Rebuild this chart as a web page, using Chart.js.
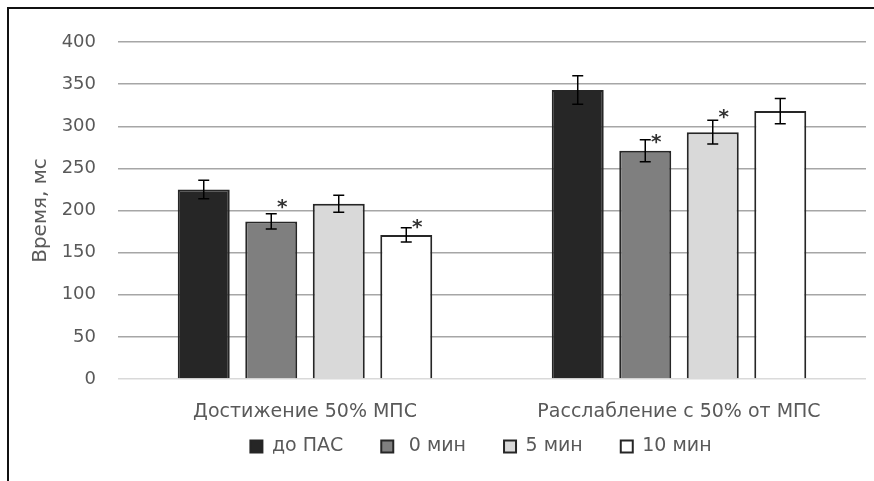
<!DOCTYPE html>
<html>
<head>
<meta charset="utf-8">
<script src="https://cdn.jsdelivr.net/npm/chart.js@4.4.0/dist/chart.umd.min.js"></script>
<style>
  html, body { margin: 0; padding: 0; background: #fff; }
  #wrap { position: relative; width: 874px; height: 481px; }
  #frame { position: absolute; left: 7px; top: 7px; width: 900px; height: 500px;
           border-left: 2px solid #111; border-top: 2px solid #111; box-sizing: border-box; }
  canvas { position: absolute; left: 0; top: 0; }
</style>
</head>
<body>
<div id="wrap">
  <div id="frame"></div>
  <canvas id="chart" width="874" height="481"></canvas>
</div>
<script>
const categories = ['Достижение 50% МПС', 'Расслабление с 50% от МПС'];
const seriesNames = ['до ПАС', ' 0 мин', '5 мин', '10 мин'];

const doPas = [225, 343];
const min0 = [187, 271];
const min5 = [208, 293];
const min10 = [171, 318];

const doPasErr = [11, 17];
const min0Err = [9, 13];
const min5Err = [10, 14];
const min10Err = [8.5, 15];

// level of the "*" marks (null = no mark)
const doPasStar = [null, null];
const min0Star = [210, 287];
const min5Star = [null, 317];
const min10Star = [186, null];

const yTicks = [0, 50, 100, 150, 200, 250, 300, 350, 400];

const fills = ['#262626', '#7f7f7f', '#d9d9d9', '#ffffff'];
const values = [doPas, min0, min5, min10];
const errors = [doPasErr, min0Err, min5Err, min10Err];
const stars = [doPasStar, min0Star, min5Star, min10Star];

const FONT = '"DejaVu Sans"';
const legendShiftX = 44;
const legendShiftY = -25;

const errorBars = {
  id: 'errorBars',
  afterDatasetsDraw(chart) {
    const ctx = chart.ctx;
    const y = chart.scales.y;
    ctx.save();
    chart.data.datasets.forEach((ds, i) => {
      const meta = chart.getDatasetMeta(i);
      meta.data.forEach((bar, j) => {
        const v = ds.data[j];
        const e = errors[i][j];
        const top = y.getPixelForValue(v + e);
        const bot = y.getPixelForValue(v - e);
        ctx.strokeStyle = '#000';
        ctx.lineWidth = 1.5;
        ctx.beginPath();
        ctx.moveTo(bar.x, top); ctx.lineTo(bar.x, bot);
        ctx.moveTo(bar.x - 5.5, top); ctx.lineTo(bar.x + 5.5, top);
        ctx.moveTo(bar.x - 5.5, bot); ctx.lineTo(bar.x + 5.5, bot);
        ctx.stroke();
        const s = stars[i][j];
        if (s !== null) {
          ctx.fillStyle = '#333';
          ctx.font = 'bold 20px ' + FONT;
          ctx.textAlign = 'center';
          ctx.textBaseline = 'middle';
          ctx.fillText('*', bar.x + 11, y.getPixelForValue(s) + 6);
        }
      });
    });
    ctx.restore();
  }
};

// move the legend under the plot like in the original
const legendPlace = {
  id: 'legendPlace',
  afterLayout(chart) {
    const lg = chart.legend;
    lg.left += legendShiftX; lg.right += legendShiftX;
    lg.top += legendShiftY; lg.bottom += legendShiftY;
  }
};

new Chart(document.getElementById('chart'), {
  type: 'bar',
  data: {
    labels: categories,
    datasets: seriesNames.map((name, i) => ({
      label: name,
      data: values[i],
      backgroundColor: fills[i],
      borderColor: '#262626',
      borderWidth: 2,
      categoryPercentage: 0.722,
      barPercentage: 0.77
    }))
  },
  options: {
    responsive: false,
    animation: false,
    layout: { padding: { left: 8, right: 8, top: 42, bottom: -10 } },
    plugins: {
      tooltip: { enabled: false },
      legend: {
        position: 'bottom',
        labels: {
          boxWidth: 12, boxHeight: 12, padding: 38,
          color: '#595959',
          font: { family: FONT, size: 19 }
        }
      }
    },
    scales: {
      x: {
        grid: { display: false, drawTicks: false },
        border: { display: false },
        ticks: { color: '#595959', padding: 22, font: { family: FONT, size: 19 } },
        afterFit(s) { s.height = 45; }
      },
      y: {
        min: 0, max: 400,
        afterBuildTicks(s) { s.ticks = yTicks.map(v => ({ value: v })); },
        grid: {
          drawTicks: false,
          lineWidth: 1.5,
          color: c => (c.tick && c.tick.value === 0) ? '#d9d9d9' : '#a6a6a6'
        },
        border: { display: false },
        ticks: { color: '#595959', padding: 22, font: { family: FONT, size: 18 } },
        title: {
          display: true, text: 'Время, мс', color: '#595959',
          font: { family: FONT, size: 20 }, padding: { top: 21, bottom: 0 }
        },
        afterFit(s) { s.width = 110; }
      }
    }
  },
  plugins: [errorBars, legendPlace]
});
</script>
</body>
</html>
